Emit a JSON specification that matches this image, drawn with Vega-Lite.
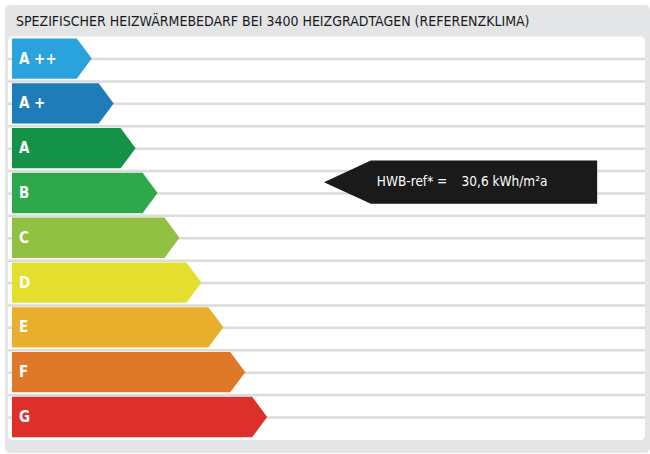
{
  "$schema": "https://vega.github.io/schema/vega-lite/v6.json",
  "width": 650,
  "height": 454,
  "padding": 0,
  "autosize": {"type": "fit", "contains": "padding"},
  "background": "white",
  "config": {"view": {"stroke": null}},
  "datasets": {
    "panel": [
      {"part": "outer", "x1": 5, "x2": 652, "y1": 5, "y2": 460},
      {"part": "inner", "x1": 8, "x2": 647, "y1": 37, "y2": 447}
    ],
    "grid": [
      {"y": 60}, {"y": 82.75}, {"y": 105.5}, {"y": 128.25}, {"y": 151}, {"y": 173.75},
      {"y": 196.5}, {"y": 219.25}, {"y": 242}, {"y": 264.75}, {"y": 287.5}, {"y": 310.25},
      {"y": 333}, {"y": 355.75}, {"y": 378.5}, {"y": 401.25}, {"y": 424}
    ],
    "shape": [
      {"cls": "A++", "x": 12, "top": 39, "bot": 80},
      {"cls": "A++", "x": 77, "top": 39, "bot": 80},
      {"cls": "A++", "x": 92, "top": 59.5, "bot": 59.5},
      {"cls": "A+", "x": 12, "top": 84.5, "bot": 125.5},
      {"cls": "A+", "x": 99, "top": 84.5, "bot": 125.5},
      {"cls": "A+", "x": 114, "top": 105, "bot": 105},
      {"cls": "A", "x": 12, "top": 130, "bot": 171},
      {"cls": "A", "x": 121, "top": 130, "bot": 171},
      {"cls": "A", "x": 136, "top": 150.5, "bot": 150.5},
      {"cls": "B", "x": 12, "top": 175.5, "bot": 216.5},
      {"cls": "B", "x": 143, "top": 175.5, "bot": 216.5},
      {"cls": "B", "x": 158, "top": 196, "bot": 196},
      {"cls": "C", "x": 12, "top": 221, "bot": 262},
      {"cls": "C", "x": 165, "top": 221, "bot": 262},
      {"cls": "C", "x": 180, "top": 241.5, "bot": 241.5},
      {"cls": "D", "x": 12, "top": 266.5, "bot": 307.5},
      {"cls": "D", "x": 187, "top": 266.5, "bot": 307.5},
      {"cls": "D", "x": 202, "top": 287, "bot": 287},
      {"cls": "E", "x": 12, "top": 312, "bot": 353},
      {"cls": "E", "x": 209, "top": 312, "bot": 353},
      {"cls": "E", "x": 224, "top": 332.5, "bot": 332.5},
      {"cls": "F", "x": 12, "top": 357.5, "bot": 398.5},
      {"cls": "F", "x": 231, "top": 357.5, "bot": 398.5},
      {"cls": "F", "x": 246, "top": 378, "bot": 378},
      {"cls": "G", "x": 12, "top": 403, "bot": 444},
      {"cls": "G", "x": 253, "top": 403, "bot": 444},
      {"cls": "G", "x": 268, "top": 423.5, "bot": 423.5},
      {"cls": "HWB", "x": 325, "top": 185, "bot": 185},
      {"cls": "HWB", "x": 372, "top": 163, "bot": 207},
      {"cls": "HWB", "x": 599, "top": 163, "bot": 207}
    ],
    "labels": [
      {"label": "A ++", "ctr": 59.5},
      {"label": "A +", "ctr": 105},
      {"label": "A", "ctr": 150.5},
      {"label": "B", "ctr": 196},
      {"label": "C", "ctr": 241.5},
      {"label": "D", "ctr": 287},
      {"label": "E", "ctr": 332.5},
      {"label": "F", "ctr": 378},
      {"label": "G", "ctr": 423.5}
    ],
    "title": [
      {"text": "SPEZIFISCHER HEIZWÄRMEBEDARF BEI 3400 HEIZGRADTAGEN (REFERENZKLIMA)", "x": 16, "y": 22}
    ],
    "hwb": [
      {"text": "HWB-ref* =", "x": 378, "y": 185},
      {"text": "30,6 kWh/m²a", "x": 463, "y": 185}
    ]
  },
  "layer": [
    {
      "data": {"name": "panel"},
      "mark": {"type": "rect", "cornerRadius": 5},
      "encoding": {
        "x": {"field": "x1", "type": "quantitative", "scale": {"domain": [0, 650], "nice": false, "zero": false}, "axis": null},
        "x2": {"field": "x2"},
        "y": {"field": "y1", "type": "quantitative", "scale": {"domain": [0, 454], "nice": false, "zero": false, "reverse": true}, "axis": null},
        "y2": {"field": "y2"},
        "fill": {"field": "part", "type": "nominal", "scale": {"domain": ["outer", "inner"], "range": ["#e4e5e6", "#ffffff"]}, "legend": null}
      }
    },
    {
      "data": {"name": "grid"},
      "mark": {"type": "rule", "color": "#dcdcdc", "strokeWidth": 2.5},
      "encoding": {
        "y": {"field": "y", "type": "quantitative"},
        "x": {"datum": 8},
        "x2": {"datum": 647}
      }
    },
    {
      "data": {"name": "shape"},
      "mark": {"type": "area", "orient": "vertical", "interpolate": "linear"},
      "encoding": {
        "x": {"field": "x", "type": "quantitative"},
        "y": {"field": "top", "type": "quantitative", "stack": null},
        "y2": {"field": "bot"},
        "color": {"field": "cls", "type": "nominal", "legend": null,
          "scale": {"domain": ["A++", "A+", "A", "B", "C", "D", "E", "F", "G", "HWB"],
                    "range": ["#2aa2db", "#1e7cb9", "#149247", "#2da94c", "#92c043", "#e4df2f", "#e8ae2c", "#df7828", "#dd302b", "#1b1a1a"]}},
        "detail": {"field": "cls"}
      }
    },
    {
      "data": {"name": "labels"},
      "mark": {"type": "text", "align": "left", "baseline": "middle", "font": "DejaVu Sans Condensed, Liberation Sans, sans-serif", "fontWeight": "bold", "fontSize": 15, "fill": "#ffffff"},
      "encoding": {
        "x": {"datum": 19},
        "y": {"field": "ctr", "type": "quantitative"},
        "text": {"field": "label"}
      }
    },
    {
      "data": {"name": "title"},
      "mark": {"type": "text", "align": "left", "baseline": "middle", "font": "DejaVu Sans Condensed, Liberation Sans, sans-serif", "fontSize": 14, "fill": "#1a1a1a"},
      "encoding": {
        "x": {"field": "x", "type": "quantitative"},
        "y": {"field": "y", "type": "quantitative"},
        "text": {"field": "text"}
      }
    },
    {
      "data": {"name": "hwb"},
      "mark": {"type": "text", "align": "left", "baseline": "middle", "font": "DejaVu Sans Condensed, Liberation Sans, sans-serif", "fontSize": 13.5, "fill": "#ffffff"},
      "encoding": {
        "x": {"field": "x", "type": "quantitative"},
        "y": {"field": "y", "type": "quantitative"},
        "text": {"field": "text"}
      }
    }
  ]
}
